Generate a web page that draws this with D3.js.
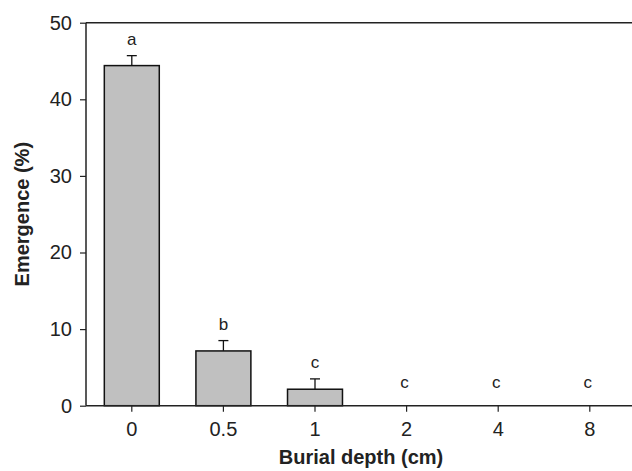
<!DOCTYPE html>
<html>
<head>
<meta charset="utf-8">
<script src="https://cdn.jsdelivr.net/npm/d3@7"></script>
<style>
  body { margin: 0; background: #fff; overflow: hidden; }
  svg { display: block; overflow: hidden; }
  text { font-family: "Liberation Sans", Arial, sans-serif; fill: #222; }
</style>
</head>
<body>
<div id="chart"></div>
<script>
  // burial depth (cm), mean emergence (%), standard error, letters
  var depths = ["0", "0.5", "1", "2", "4", "8"];
  var emergence = [44.4, 7.15, 2.15, 0, 0, 0];
  var stdErr = [1.3, 1.35, 1.35, 0, 0, 0];
  var groups = ["a", "b", "c", "c", "c", "c"];
  var yTicks = [0, 10, 20, 30, 40, 50];

  var width = 632,
      height = 471,
      margin = {top: 22.7, left: 86, bottom: 65.3};

  var svg = d3.select("#chart")
      .append("svg")
      .attr("width", width)
      .attr("height", height);

  var x = d3.scaleBand()
      .domain(depths)
      .range([margin.left, margin.left + 6 * 91.6])
      .paddingInner(0.4)
      .paddingOuter(0.2);

  var y = d3.scaleLinear()
      .domain([0, 50])
      .range([height - margin.bottom, margin.top]);

  var rows = depths.map(function(d, i) {
    return {depth: d, mean: emergence[i], se: stdErr[i], group: groups[i]};
  });

  // the plot frame runs off the right edge of the picture
  var right = width;

  svg.append("line")
      .attr("x1", margin.left).attr("x2", right)
      .attr("y1", y(50)).attr("y2", y(50))
      .attr("stroke", "#222").attr("stroke-width", 1.5);

  // error bars (upper only)
  var err = svg.selectAll(".err")
      .data(rows.filter(function(d) { return d.se > 0; }))
    .enter().append("g")
      .attr("class", "err")
      .attr("stroke", "#111")
      .attr("stroke-width", 1.3);

  err.append("line")
      .attr("x1", function(d) { return x(d.depth) + x.bandwidth() / 2; })
      .attr("x2", function(d) { return x(d.depth) + x.bandwidth() / 2; })
      .attr("y1", function(d) { return y(d.mean); })
      .attr("y2", function(d) { return y(d.mean + d.se); });

  err.append("line")
      .attr("x1", function(d) { return x(d.depth) + x.bandwidth() / 2 - 5; })
      .attr("x2", function(d) { return x(d.depth) + x.bandwidth() / 2 + 5; })
      .attr("y1", function(d) { return y(d.mean + d.se); })
      .attr("y2", function(d) { return y(d.mean + d.se); });

  svg.selectAll(".bar")
      .data(rows.filter(function(d) { return d.mean > 0; }))
    .enter().append("rect")
      .attr("class", "bar")
      .attr("x", function(d) { return x(d.depth); })
      .attr("y", function(d) { return y(d.mean); })
      .attr("width", x.bandwidth())
      .attr("height", function(d) { return y(0) - y(d.mean); })
      .attr("fill", "#c0c0c0")
      .attr("stroke", "#111")
      .attr("stroke-width", 1.5);

  svg.selectAll(".letter")
      .data(rows)
    .enter().append("text")
      .attr("class", "letter")
      .attr("x", function(d) { return x(d.depth) + x.bandwidth() / 2 - (d.mean > 0 ? 0 : 2); })
      .attr("y", function(d) { return Math.min(y(d.mean + d.se) - 11, y(0) - 17.5); })
      .attr("text-anchor", "middle")
      .style("font-size", "17px")
      .text(function(d) { return d.group; });

  // axes
  var yAxis = svg.append("g")
      .attr("transform", "translate(" + margin.left + ",0)")
      .call(d3.axisLeft(y).tickValues(yTicks).tickSize(6).tickPadding(8).tickFormat(d3.format("d")));

  var xAxis = svg.append("g")
      .attr("transform", "translate(0," + y(0) + ")")
      .call(d3.axisBottom(x).tickSize(6).tickPadding(10));

  [xAxis, yAxis].forEach(function(a) {
    a.select(".domain").attr("stroke", "#222").attr("stroke-width", 1.5);
    a.selectAll(".tick line").attr("stroke", "#222").attr("stroke-width", 1.2);
    a.selectAll(".tick text")
      .style("font-family", "'Liberation Sans', Arial, sans-serif")
      .style("font-size", "20px")
      .attr("fill", "#222");
  });
  xAxis.select(".domain").attr("d", "M" + margin.left + ",0H" + right);
  yAxis.select(".domain").attr("d", "M0," + y(0) + "V" + y(50));

  svg.append("text")
      .attr("x", 361)
      .attr("y", 464)
      .attr("text-anchor", "middle")
      .style("font-size", "20px")
      .style("font-weight", "bold")
      .text("Burial depth (cm)");

  svg.append("text")
      .attr("transform", "translate(29," + ((y(0) + y(50)) / 2) + ") rotate(-90)")
      .attr("text-anchor", "middle")
      .style("font-size", "20px")
      .style("font-weight", "bold")
      .text("Emergence (%)");
</script>
</body>
</html>
